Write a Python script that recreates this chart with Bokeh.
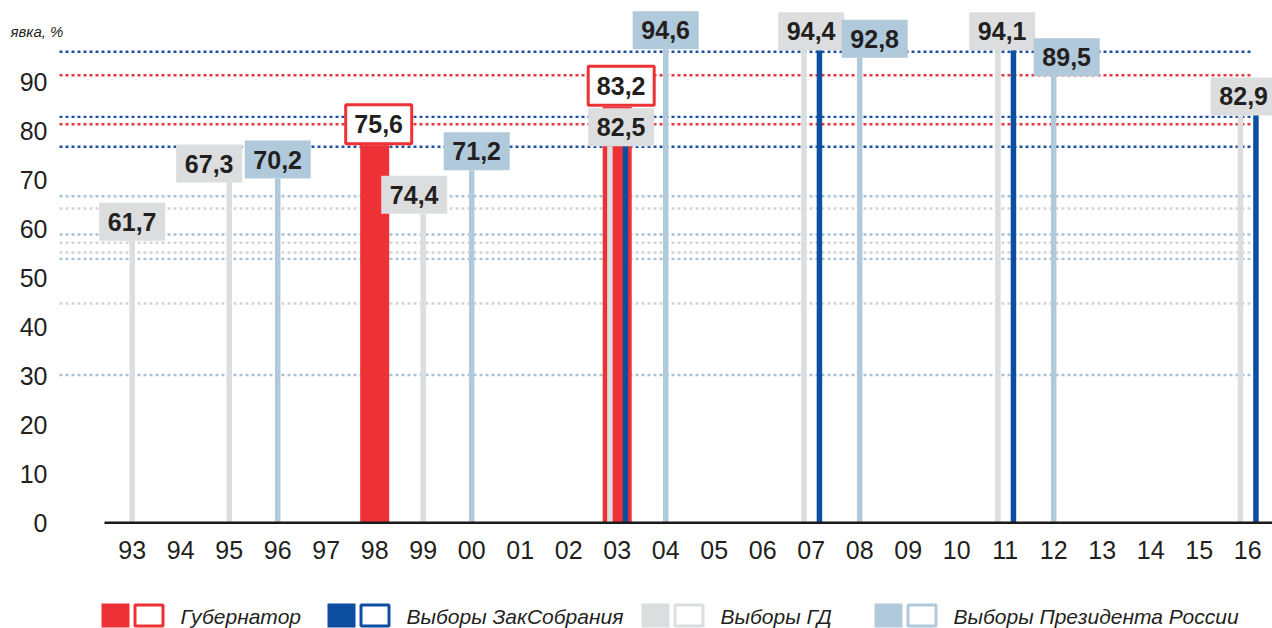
from bokeh.plotting import figure
from bokeh.models import Range1d, FixedTicker, ColumnDataSource
from bokeh.layouts import column
from bokeh.embed import file_html
from bokeh.resources import INLINE
from bokeh.core.properties import value

# ---------------- data ----------------
years = ["93", "94", "95", "96", "97", "98", "99", "00", "01", "02", "03", "04",
         "05", "06", "07", "08", "09", "10", "11", "12", "13", "14", "15", "16"]
y_ticks = [0, 10, 20, 30, 40, 50, 60, 70, 80, 90]
y_title = "явка, %"

series_names = ["Губернатор", "Выборы ЗакСобрания", "Выборы  ГД", "Выборы Президента России"]

# Губернатор
gov_years = ["98", "03"]
gov_labels = [75.6, 83.2]
gov_bars = [77.1, 85.0]          # bar heights as drawn against the axis

# Выборы ЗакСобрания (no value labels)
zs_years = ["03", "07", "11", "16"]
zs_bars = [76.9, 96.5, 96.5, 83.4]

# Выборы ГД
gd_years = ["93", "95", "99", "03", "07", "11", "16"]
gd_labels = [61.7, 67.3, 74.4, 82.5, 94.4, 94.1, 82.9]
gd_bars = [57.6, 69.5, 63.1, 76.9, 96.5, 96.5, 83.2]

# Выборы Президента России
pres_years = ["96", "00", "04", "08", "12"]
pres_labels = [70.2, 71.2, 94.6, 92.8, 89.5]
pres_bars = [70.3, 72.0, 96.7, 95.0, 91.2]

# dotted reference levels
blue_levels = [96.2, 82.9, 76.8]
red_levels = [91.4, 81.4]
lblue_levels = [66.7, 58.9, 53.9, 30.2]
grey_levels = [64.2, 57.2, 55.2, 44.8]

# ---------------- style ----------------
FONT = "Liberation Sans"
TEXT = "#231f20"
RED = "#ee3135"
BLUE = "#0d4ea1"
GREY = "#dcdddf"
LBLUE = "#b0c9db"
RED_DOT = "#e5383e"
BLUE_DOT = "#1f52a3"
LB_DOT = "#a8c3d8"
GR_DOT = "#d3d4d6"

W = 1272
H = 628
FRAME_H = 534
LEG_H = 52
PXX = 48.5          # px per year step
PXY = 4.896         # px per percent
FIRST_X = 131.7     # px of first year
ZERO_Y = 522.3      # px of zero line
x_start = -FIRST_X / PXX
x_end = x_start + W / PXX
y_start = -(FRAME_H - ZERO_Y) / PXY
y_end = y_start + FRAME_H / PXY


def px_x(px):
    return x_start + px / PXX


idx = {y: i for i, y in enumerate(years)}
PAIR_GD = -0.15
PAIR_ZS = 0.17
THIN = 5.5 / PXX
WIDE = 29 / PXX


def fmt(v):
    return f"{v:.1f}".replace(".", ",")


p = figure(width=W, height=H - LEG_H, x_range=Range1d(x_start, x_end),
           y_range=Range1d(y_start, y_end), output_backend="svg",
           toolbar_location=None, y_axis_location=None,
           min_border_left=0, min_border_right=0, min_border_top=0,
           min_border_bottom=H - LEG_H - FRAME_H)
p.outline_line_color = None
p.grid.visible = False
p.background_fill_color = "white"

# x axis
p.xaxis.ticker = FixedTicker(ticks=list(range(len(years))))
p.xaxis.major_label_overrides = {i: y for i, y in enumerate(years)}
p.xaxis.axis_line_color = None
p.xaxis.major_tick_line_color = None
p.xaxis.minor_tick_line_color = None
p.xaxis.major_label_text_font = FONT
p.xaxis.major_label_text_font_size = "25px"
p.xaxis.major_label_text_color = TEXT
p.xaxis.major_label_standoff = 0

# y tick labels (placed left of the plotting area)
p.text(x=[px_x(47)] * len(y_ticks), y=y_ticks, text=[str(t) for t in y_ticks],
       text_align="right", text_baseline="middle", text_font=value(FONT),
       text_font_size="25px", text_color=TEXT)
p.text(x=[px_x(10)], y=[(ZERO_Y - 31) / PXY], text=[y_title], text_align="left",
       text_baseline="alphabetic", text_font=value(FONT), text_font_style="italic",
       text_font_size="15px", text_color=TEXT)

# dotted reference lines
line_x0 = px_x(59)
line_x1 = idx["16"] + 0.12
for levels, col in ((lblue_levels, LB_DOT), (grey_levels, GR_DOT),
                    (red_levels, RED_DOT), (blue_levels, BLUE_DOT)):
    p.segment(x0=[line_x0] * len(levels), x1=[line_x1] * len(levels),
              y0=levels, y1=levels, line_color=col, line_width=2.4, line_dash="3 3")

# bars
p.vbar(x=[idx[y] for y in gov_years], top=gov_bars, bottom=0, width=WIDE,
       fill_color=RED, line_color=None)
p.vbar(x=[idx[y] + (PAIR_GD if y in zs_years else 0) for y in gd_years], top=gd_bars,
       bottom=0, width=THIN, fill_color=GREY, line_color=None)
p.vbar(x=[idx[y] for y in pres_years], top=pres_bars, bottom=0, width=THIN,
       fill_color=LBLUE, line_color=None)
p.vbar(x=[idx[y] + PAIR_ZS for y in zs_years], top=zs_bars, bottom=0, width=THIN,
       fill_color=BLUE, line_color=None)

# baseline
p.segment(x0=[px_x(104)], x1=[x_end], y0=[0], y1=[0], line_color="#1a1a1a", line_width=2.5)

# value boxes
gd_nudge = {"95": -20, "99": -9, "03": 4, "11": -3, "16": -4}
pres_nudge = {"00": 5, "08": 15, "12": 13}
gov_nudge = {"98": 4, "03": 4}


def boxes(yrs, labels, tops, nudge, half_h):
    return ColumnDataSource(dict(
        x=[idx[y] + nudge.get(y, 0) / PXX for y in yrs],
        y=[t + half_h / PXY for t in tops],
        text=[fmt(v) for v in labels]))


gd_src = boxes(gd_years, gd_labels, gd_bars, gd_nudge, 19)
pres_src = boxes(pres_years, pres_labels, pres_bars, pres_nudge, 19)
gov_src = boxes(gov_years, gov_labels, gov_bars, gov_nudge, 21)

p.rect(x="x", y="y", width=66, height=38, width_units="screen", height_units="screen",
       fill_color=GREY, line_color=None, source=gd_src)
p.rect(x="x", y="y", width=66, height=38, width_units="screen", height_units="screen",
       fill_color=LBLUE, line_color=None, source=pres_src)
p.rect(x="x", y="y", width=66, height=39, width_units="screen", height_units="screen",
       fill_color="white", line_color=RED, line_width=3, source=gov_src)
for src in (gd_src, pres_src, gov_src):
    p.text(x="x", y="y", text="text", source=src, text_align="center",
           text_baseline="middle", text_font=value(FONT), text_font_style="bold",
           text_font_size="25px", text_color=TEXT)

# ---------------- legend ----------------
lg = figure(width=W, height=LEG_H, x_range=Range1d(0, W), y_range=Range1d(0, LEG_H),
            output_backend="svg", toolbar_location=None, min_border=0,
            x_axis_location=None, y_axis_location=None)
lg.outline_line_color = None
lg.grid.visible = False
starts = [101, 327, 641, 874]
fills = [RED, BLUE, GREY, LBLUE]
lg.rect(x=[s + 14 for s in starts], y=13, width=28, height=24, fill_color=fills,
        line_color=None)
lg.rect(x=[s + 47.5 for s in starts], y=13, width=28, height=21, fill_color="white",
        line_color=fills, line_width=3)
lg.text(x=[s + 79 for s in starts], y=12, text=series_names, text_align="left",
        text_baseline="middle", text_font=value(FONT), text_font_style="italic",
        text_font_size="21px", text_color=TEXT)

layout = column(p, lg, spacing=0)
open("out.html", "w").write(file_html(layout, INLINE))
